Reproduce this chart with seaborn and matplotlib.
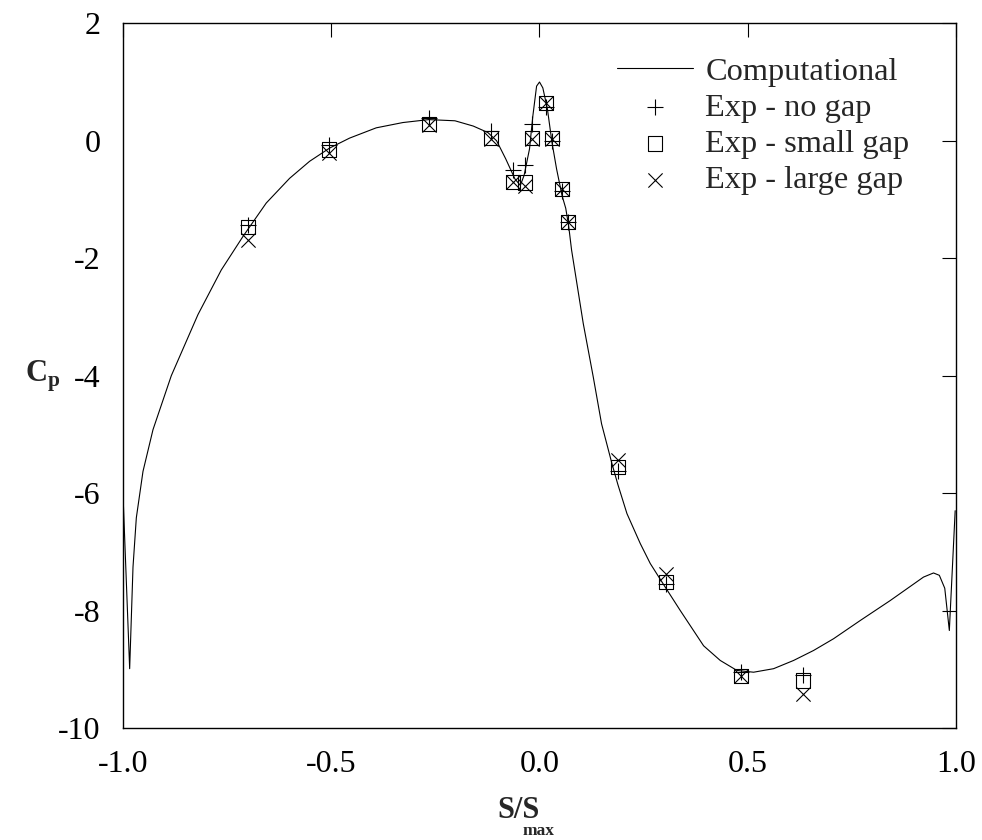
import matplotlib
matplotlib.use("Agg")
import matplotlib.pyplot as plt
import seaborn as sns

sns.set_theme(style="white")
plt.rcParams["font.family"] = ["Liberation Serif", "DejaVu Serif"]
plt.rcParams["mathtext.fontset"] = "custom"
plt.rcParams["mathtext.rm"] = "Liberation Serif"
plt.rcParams["mathtext.bf"] = "Liberation Serif:bold"
plt.rcParams["axes.unicode_minus"] = False

# Computational curve
comp_x = [-1.000, -0.984, -0.976, -0.968, -0.952, -0.928, -0.884, -0.820, -0.764,
          -0.712, -0.656, -0.600, -0.552, -0.504, -0.456, -0.392, -0.328, -0.266,
          -0.203, -0.159, -0.124, -0.103, -0.081, -0.059, -0.046, -0.037, -0.024,
          -0.016, -0.007, 0.000, 0.008, 0.019, 0.030, 0.041, 0.054, 0.063, 0.070,
          0.077, 0.105, 0.129, 0.149, 0.174, 0.188, 0.210, 0.242, 0.266, 0.300,
          0.338, 0.394, 0.434, 0.474, 0.514, 0.562, 0.610, 0.658, 0.706, 0.770,
          0.842, 0.898, 0.922, 0.946, 0.960, 0.973, 0.984, 0.998]
comp_y = [-6.02, -8.99, -7.26, -6.42, -5.63, -4.92, -4.00, -2.96, -2.20,
          -1.63, -1.06, -0.64, -0.35, -0.125, 0.045, 0.22, 0.31, 0.36,
          0.34, 0.25, 0.14, 0.00, -0.31, -0.65, -0.76, -0.59, -0.14,
          0.42, 0.93, 1.00, 0.90, 0.54, -0.03, -0.48, -0.93, -1.15, -1.45,
          -1.86, -3.11, -4.02, -4.82, -5.50, -5.85, -6.35, -6.86, -7.20, -7.58,
          -8.00, -8.60, -8.85, -9.02, -9.05, -8.99, -8.85, -8.68, -8.48, -8.17,
          -7.83, -7.55, -7.43, -7.36, -7.40, -7.62, -8.34, -6.30]

# Experimental data
exp_x = [-0.700, -0.506, -0.266, -0.116, -0.063, -0.035, -0.018, 0.016, 0.030,
         0.054, 0.068, 0.188, 0.304, 0.484, 0.633]
no_gap = [-1.43, -0.07, 0.39, 0.17, -0.49, -0.41, 0.29, 0.57, 0.00,
          -0.86, -1.38, -5.63, -7.55, -9.05, -9.10]
small_gap = [-1.47, -0.15, 0.29, 0.05, -0.70, -0.71, 0.05, 0.64, 0.05,
             -0.82, -1.38, -5.56, -7.52, -9.11, -9.19]
large_gap = [-1.69, -0.21, 0.27, 0.03, -0.70, -0.77, 0.03, 0.64, 0.03,
             -0.83, -1.39, -5.44, -7.38, -9.12, -9.42]

x_ticks = [-1.0, -0.5, 0.0, 0.5, 1.0]
x_tick_labels = ["-1.0", "-0.5", "0.0", "0.5", "1.0"]
y_ticks = [2, 0, -2, -4, -6, -8, -10]
y_tick_labels = ["2", "0", "-2", "-4", "-6", "-8", "-10"]

W, H = 982, 840
fig = plt.figure(figsize=(W / 100, H / 100), dpi=100)
ax = fig.add_axes([123 / W, 1 - 728 / H, (956 - 123) / W, (728 - 23.3) / H])

sns.lineplot(x=comp_x, y=comp_y, sort=False, estimator=None, color="black",
             linewidth=0.8, ax=ax, label="Computational")
sns.scatterplot(x=exp_x, y=no_gap, marker="+", s=135, color="black",
                linewidth=0.8, ax=ax, label="Exp - no gap")
sns.scatterplot(x=exp_x, y=small_gap, marker="s", s=105, color="black",
                facecolor="none", edgecolor="black", linewidth=0.8, ax=ax,
                label="Exp - small gap")
sns.scatterplot(x=exp_x, y=large_gap, marker="x", s=105, color="black",
                linewidth=0.8, ax=ax, label="Exp - large gap")

ax.set_xlim(-1.0, 1.0)
ax.set_ylim(-10, 2)
ax.set_xticks(x_ticks)
ax.set_xticklabels(x_tick_labels)
ax.set_yticks(y_ticks)
ax.set_yticklabels(y_tick_labels)
ax.set_xlabel("")
ax.set_ylabel("")
ax.tick_params(direction="in", length=10, width=0.8, top=True, right=True,
               labelsize=23, color="black", labelcolor="black")
ax.tick_params(axis="x", pad=16)
ax.tick_params(axis="y", pad=16)
for sp in ax.spines.values():
    sp.set_color("black")
    sp.set_linewidth(1.0)
ax.grid(False)

ax.legend(loc="upper left", bbox_to_anchor=(0.593, 0.952), frameon=False,
          fontsize=23.3, handlelength=2.35, handletextpad=0.38, labelspacing=0.2,
          borderpad=0, borderaxespad=0, scatterpoints=1)

fig.text(25 / W, 1 - 376 / H, r"$\mathbf{C}_{\mathbf{p}}$", fontsize=22,
         ha="left", va="center")
fig.text(497 / W, 1 - 818 / H, "S/S", fontsize=22, fontweight="bold",
         ha="left", va="baseline")
fig.text(523 / W, 1 - 839 / H, "max", fontsize=12.5, fontweight="bold",
         ha="left", va="bottom")

fig.savefig("out.png", dpi=100, facecolor="white")
